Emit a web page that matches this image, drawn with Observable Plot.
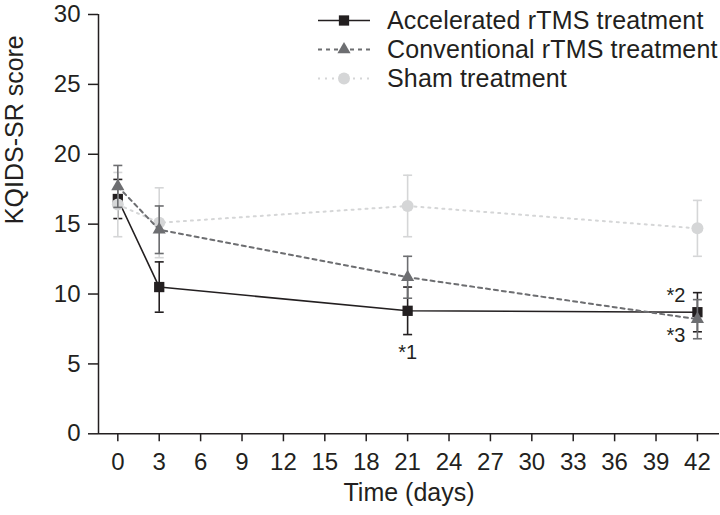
<!DOCTYPE html>
<html>
<head>
<meta charset="utf-8">
<script src="https://cdn.jsdelivr.net/npm/d3@7"></script>
<script src="https://cdn.jsdelivr.net/npm/@observablehq/plot@0.6"></script>
<style>
  body { margin: 0; background: #fff; }
  #wrap { position: relative; width: 720px; height: 515px; font-family: "Liberation Sans", Arial, sans-serif; color: #231f20; }
  #legend { position: absolute; left: 316px; top: 0; }
  .row { position: absolute; left: 0; display: flex; align-items: center; white-space: nowrap; font-size: 25px; line-height: 1; letter-spacing: 0.15px; }
  .row svg { margin-right: 15px; }
</style>
</head>
<body>
<div id="wrap"><div id="chart"></div><div id="legend"></div></div>
<script>
// ---- data ----
const days = [0, 3, 21, 42];
const seriesNames = ["Accelerated rTMS treatment", "Conventional rTMS treatment", "Sham treatment"];
const accelMean = [16.8, 10.5, 8.8, 8.7];
const accelErr  = [1.4, 1.8, 1.7, 1.4];
const convMean  = [17.7, 14.6, 11.2, 8.2];
const convErr   = [1.5, 1.7, 1.5, 1.4];
const shamMean  = [16.4, 15.1, 16.3, 14.7];
const shamErr   = [2.3, 2.5, 2.2, 2.0];
const xTicks = [0, 3, 6, 9, 12, 15, 18, 21, 24, 27, 30, 33, 36, 39, 42];
const yTicks = [0, 5, 10, 15, 20, 25, 30];
const noteLabels = ["*1", "*2", "*3"];
const noteDays   = [21, 42, 42];
const noteScores = [5.8, 9.9, 7.0];
const xTitle = "Time (days)";
const yTitle = "KQIDS-SR score";

// ---- styles ----
const styles = [
  { name: seriesNames[0], mean: accelMean, err: accelErr, color: "#231f20", dash: null,  width: 1.6, symbol: "square",   r: 5.8 },
  { name: seriesNames[1], mean: convMean,  err: convErr,  color: "#6d6e71", dash: "4,4", width: 2,   symbol: "triangle", r: 4.9 },
  { name: seriesNames[2], mean: shamMean,  err: shamErr,  color: "#d5d6d7", dash: "2,5", width: 2,   symbol: "circle",   r: 6 }
];
const drawOrder = [0, 2, 1];

const capSymbol = { draw(ctx, size) { const w = Math.sqrt(size / Math.PI); ctx.moveTo(-w, 0); ctx.lineTo(w, 0); } };

const marks = [];
marks.push(Plot.ruleY([0], { stroke: "#231f20", strokeWidth: 1.5 }));
marks.push(Plot.ruleX([-1.4], { stroke: "#231f20", strokeWidth: 1.5 }));
marks.push(Plot.axisX(xTicks, { tickSize: 8, tickPadding: 11, label: null, fontSize: 24, stroke: "#231f20", strokeWidth: 1.5 }));
marks.push(Plot.axisY(yTicks, { tickSize: 10, tickPadding: 8, label: null, fontSize: 24, stroke: "#231f20", strokeWidth: 1.5 }));

for (const i of drawOrder) {
  const s = styles[i];
  const rows = days.map((d, k) => ({ day: d, mean: s.mean[k], lo: s.mean[k] - s.err[k], hi: s.mean[k] + s.err[k] }));
  marks.push(Plot.line(rows, { x: "day", y: "mean", stroke: s.color, strokeWidth: s.width, strokeDasharray: s.dash }));
  marks.push(Plot.ruleX(rows, { x: "day", y1: "lo", y2: "hi", stroke: s.color, strokeWidth: 1.6 }));
  marks.push(Plot.dot(rows, { x: "day", y: "lo", symbol: capSymbol, r: 4.5, stroke: s.color, fill: "none", strokeWidth: 1.6 }));
  marks.push(Plot.dot(rows, { x: "day", y: "hi", symbol: capSymbol, r: 4.5, stroke: s.color, fill: "none", strokeWidth: 1.6 }));
  marks.push(Plot.dot(rows, { x: "day", y: "mean", symbol: s.symbol, r: s.r, fill: s.color, stroke: "none" }));
}

const notes = noteLabels.map((t, k) => ({ t, day: noteDays[k], score: noteScores[k] }));
marks.push(Plot.text(notes.slice(0, 1), { x: "day", y: "score", text: "t", fontSize: 20, fill: "#231f20" }));
marks.push(Plot.text(notes.slice(1), { x: "day", y: "score", text: "t", fontSize: 20, fill: "#231f20", textAnchor: "end", dx: -12 }));

marks.push(Plot.text([xTitle], { frameAnchor: "bottom", dy: 67, fontSize: 25, fill: "#231f20" }));
marks.push(Plot.text([yTitle], { frameAnchor: "left", rotate: -90, dx: -84, fontSize: 25, fill: "#231f20" }));

const chart = Plot.plot({
  width: 720,
  height: 515,
  marginLeft: 98,
  marginRight: 1,
  marginTop: 14,
  marginBottom: 81.7,
  x: { domain: [-1.4, 43.6] },
  y: { domain: [0, 30] },
  style: { fontSize: "24px", fontFamily: "Liberation Sans, Arial, sans-serif", color: "#231f20", background: "#fff" },
  marks
});
document.getElementById("chart").appendChild(chart);

// ---- legend ----
const legend = document.getElementById("legend");
styles.forEach((s, i) => {
  const row = document.createElement("div");
  row.className = "row";
  row.style.top = (8 + 29 * i) + "px";
  const sym = { square: d3.symbolSquare, triangle: d3.symbolTriangle, circle: d3.symbolCircle }[s.symbol];
  const path = d3.symbol(sym, Math.PI * s.r * s.r)();
  row.innerHTML =
    `<svg width="56" height="25" viewBox="0 0 56 25">
       <line x1="2" x2="54" y1="12.5" y2="12.5" stroke="${s.color}" stroke-width="${s.width}" ${s.dash ? `stroke-dasharray="${s.dash}"` : ""}/>
       <path d="${path}" transform="translate(28,12.5)" fill="${s.color}"/>
     </svg><span>${s.name}</span>`;
  legend.appendChild(row);
});
</script>
</body>
</html>
